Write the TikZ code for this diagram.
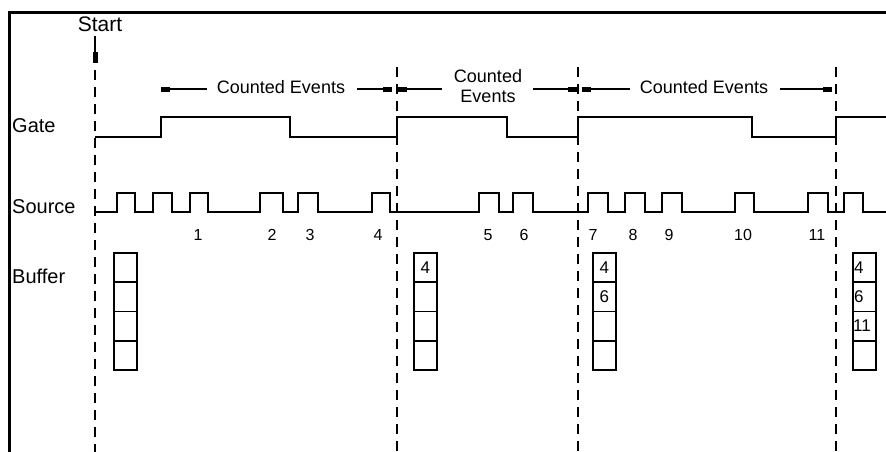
\documentclass[tikz,border=0pt]{standalone}
\usepackage{fontspec}
\setmainfont{Liberation Sans}
\usetikzlibrary{arrows.meta}
\begin{document}
\begin{tikzpicture}[x=1pt,y=-1pt,
  sig/.style={line width=2pt, line join=miter},
  gline/.style={line width=2pt, dash pattern=on 10pt off 7pt},
  frame/.style={line width=3pt},
  cnt/.style={line width=1.5pt},
  lbl/.style={font=\fontsize{20}{22}\selectfont, anchor=base west, inner sep=0pt},
  num/.style={font=\fontsize{16}{18}\selectfont, anchor=base, inner sep=0pt},
  bnum/.style={font=\fontsize{17}{19}\selectfont, inner sep=0pt},
  evt/.style={font=\fontsize{18}{20}\selectfont, inner sep=0pt, anchor=base},
  cell/.style={draw, line width=1.8pt, minimum width=23pt, minimum height=29.25pt, inner sep=0pt, anchor=north west},
  tipL/.style={{Rectangle[length=9pt,width=5pt]}-},
  tipR/.style={-{Rectangle[length=9pt,width=5pt]}}
]
\useasboundingbox (0,0) rectangle (886,452);
% frame
\draw[frame] (9,452) -- (9,13) -- (886,13);

% labels
\node[lbl] (gate) at (12,132) {Gate};
\node[lbl] (source) at (12,213) {Source};
\node[lbl] (buffer) at (12,283) {Buffer};
\node[font=\fontsize{21}{23}\selectfont, anchor=base, inner sep=0pt] (start) at (100,32) {Start};

% start marker and boundaries
\coordinate (s0) at (95,36);
\coordinate (s1) at (95,52);
\draw[line width=2pt] (s0) -- (s1);
\fill (92.5,52) rectangle (97.5,63);
\draw[gline] (95,70) -- (95,452);
\draw[gline] (397,67) -- (397,452);
\draw[gline] (578,67) -- (578,452);
\draw[gline] (836,67) -- (836,452);

% counted events
\coordinate (a1s) at (161,89); \coordinate (a1e) at (207,89);
\coordinate (a1t) at (357,89); \coordinate (a1u) at (392,89);
\draw[cnt, tipL] (a1s) -- (a1e);
\node[evt] (ev1) at (281,93) {Counted Events};
\draw[cnt, tipR] (a1t) -- (a1u);

\coordinate (a2s) at (398,89); \coordinate (a2e) at (442,89);
\coordinate (a2t) at (533,89); \coordinate (a2u) at (577,89);
\draw[cnt, tipL] (a2s) -- (a2e);
\node[evt] (ev2a) at (488,82) {Counted};
\node[evt] (ev2b) at (488,102) {Events};
\draw[cnt, tipR] (a2t) -- (a2u);

\coordinate (a3s) at (582,89); \coordinate (a3e) at (630,89);
\coordinate (a3t) at (780,89); \coordinate (a3u) at (832,89);
\draw[cnt, tipL] (a3s) -- (a3e);
\node[evt] (ev3) at (704,93) {Counted Events};
\draw[cnt, tipR] (a3t) -- (a3u);

% gate waveform
\draw[sig] (95,137) -| (161,117) -| (290,137) -| (397,117) -| (507,137)
  -| (578,117) -| (752,137) -| (836,117) -- (886,117);

% source waveform
\draw[sig] (95,212)
  -| (117,193) -| (135,212)
  -| (153,193) -| (172,212)
  -| (190,193) -| (208,212)
  -| (260,193) -| (283,212)
  -| (298,193) -| (318,212)
  -| (372,193) -| (390,212)
  -| (479,193) -| (499,212)
  -| (513,193) -| (533,212)
  -| (588,193) -| (608,212)
  -| (625,193) -| (645,212)
  -| (662,193) -| (682,212)
  -| (735,193) -| (754,212)
  -| (808,193) -| (828,212)
  -| (844,193) -| (863,212)
  -- (886,212);

% count numbers
\foreach \x/\n in {198/1, 272/2, 310/3, 378/4, 488/5, 524/6, 593/7, 633/8, 669/9, 743/10, 817/11}
  \node[num] (n\n) at (\x,240) {\n};

% buffers
\foreach \b/\x in {1/113, 2/413, 3/592, 4/852} {
  \foreach \k in {0,1,2,3}
    \node[cell] (b\b c\k) at (\x,{252+29.25*\k}) {};
}
\node[bnum] (t21) at (b2c0) {4};
\node[bnum] (t31) at (b3c0) {4};
\node[bnum] (t32) at (b3c1) {6};
\node[bnum, anchor=west] (t41) at ([xshift=2pt]b4c0.west) {4};
\node[bnum, anchor=west] (t42) at ([xshift=2pt]b4c1.west) {6};
\node[bnum, anchor=west] (t43) at ([xshift=1pt]b4c2.west) {11};
\end{tikzpicture}
\end{document}
